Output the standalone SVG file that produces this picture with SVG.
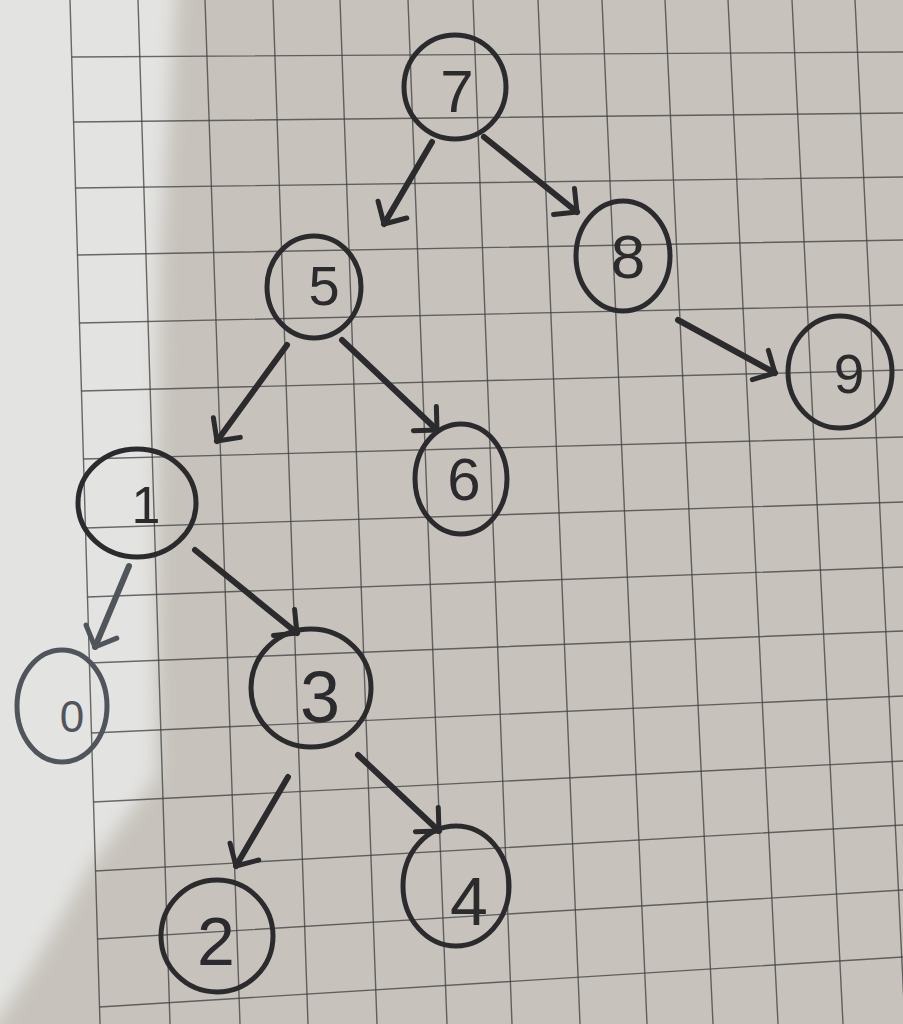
<svg xmlns="http://www.w3.org/2000/svg" width="903" height="1024" viewBox="0 0 903 1024">
  <defs>
    <filter id="soft" x="-20%" y="-20%" width="140%" height="140%">
      <feGaussianBlur stdDeviation="9"/>
    </filter>
    <marker id="arr" markerUnits="userSpaceOnUse" markerWidth="50" markerHeight="50" refX="0" refY="0" viewBox="-30 -30 40 60" orient="auto">
      <path d="M -20 -20 L 0 0 L -20 20" fill="none" stroke="context-stroke" stroke-width="6" stroke-linecap="round" stroke-linejoin="round"/>
    </marker>
    <marker id="arrDark" markerUnits="userSpaceOnUse" markerWidth="50" markerHeight="50" refX="0" refY="0" viewBox="-30 -30 40 60" orient="auto">
      <path d="M -20 -20 L 0 0 L -20 20" fill="none" stroke="#2b2b2e" stroke-width="6" stroke-linecap="round" stroke-linejoin="round"/>
    </marker>
    <marker id="arrGrey" markerUnits="userSpaceOnUse" markerWidth="50" markerHeight="50" refX="0" refY="0" viewBox="-30 -30 40 60" orient="auto">
      <path d="M -20 -20 L 0 0 L -20 20" fill="none" stroke="#50555c" stroke-width="6" stroke-linecap="round" stroke-linejoin="round"/>
    </marker>
  </defs>
  <style>
    .ring { fill: none; stroke: #2b2b2e; stroke-width: 5; }
    .ring.grey { stroke: #50555c; }
    .digit { font-family: "Liberation Sans", Arial, sans-serif; fill: #2b2b2e; text-anchor: middle; }
    .digit.grey { fill: #50555c; }
    .edge { fill: none; stroke: #2b2b2e; stroke-width: 6; stroke-linecap: round; marker-end: url(#arrDark); }
    .edge.grey { stroke: #50555c; marker-end: url(#arrGrey); }
    .grid { fill: none; stroke: #3e3e40; stroke-width: 1.4; stroke-opacity: 0.75; }
  </style>

  <g id="paper">
    <rect x="0" y="0" width="903" height="1024" fill="#c7c3bc"/>
    <polygon points="-30,-30 178,-30 170,100 160,250 157,450 156,650 157,775 90,867 33,967 0,1017 -30,1054" fill="#e3e3e1" filter="url(#soft)"/>
    <path class="grid" d="M70 0 L100 1024 M138 0 L170 1024 M205 0 L240 1024 M273 0 L308 1024 M340 0 L377 1024 M408 0 L447 1024 M473 0 L512 1024 M538 0 L580 1024 M602 0 L647 1024 M665 0 L713 1024 M728 0 L778 1024 M792 0 L843 1024 M855 0 L905 1024"/>
    <path class="grid" d="M71.7 57 L903 52 M73.6 122 L903 113 M75.5 188 L903 177 M77.5 255 L903 240 M79.5 323 L903 305 M81.5 391 L903 370 M83.4 459 L903 437 M85.5 528 L903 502 M87.5 597 L903 567 M89.4 663 L903 631 M91.5 733 L903 696 M93.5 802 L903 761 M95.5 871 L903 825 M97.5 939 L903 890 M99.5 1007 L903 957"/>
  </g>

  <g id="connectors">
    <path class="edge" d="M432 142 L384 224"/>
    <path class="edge" d="M484 137 L577 212"/>
    <path class="edge" d="M287 345 L217 441"/>
    <path class="edge" d="M342 340 L437 430"/>
    <path class="edge" d="M678 320 L775 373"/>
    <path class="edge grey" d="M129 566 L95 647"/>
    <path class="edge" d="M195 550 L297 633"/>
    <path class="edge" d="M288 777 L236 866"/>
    <path class="edge" d="M358 755 L439 831"/>
  </g>

  <g id="node-7">
    <ellipse class="ring" cx="455" cy="87" rx="51" ry="52"/>
    <text class="digit" x="457" y="112" font-size="60">7</text>
  </g>
  <g id="node-5">
    <ellipse class="ring" cx="314" cy="287" rx="47" ry="51"/>
    <text class="digit" x="324" y="305" font-size="56">5</text>
  </g>
  <g id="node-8">
    <ellipse class="ring" cx="623" cy="256" rx="47" ry="55"/>
    <text class="digit" x="628" y="278" font-size="62">8</text>
  </g>
  <g id="node-9">
    <ellipse class="ring" cx="840" cy="372" rx="52" ry="56"/>
    <text class="digit" x="849" y="393" font-size="55">9</text>
  </g>
  <g id="node-1">
    <ellipse class="ring" cx="137" cy="503" rx="59" ry="54"/>
    <text class="digit" x="146" y="523" font-size="52">1</text>
  </g>
  <g id="node-6">
    <ellipse class="ring" cx="461" cy="479" rx="46" ry="55"/>
    <text class="digit" x="464" y="500" font-size="60">6</text>
  </g>
  <g id="node-0">
    <ellipse class="ring grey" cx="62" cy="706" rx="45" ry="56"/>
    <text class="digit grey" x="72" y="732" font-size="44">0</text>
  </g>
  <g id="node-3">
    <ellipse class="ring" cx="311" cy="688" rx="60" ry="59"/>
    <text class="digit" x="320" y="722" font-size="72">3</text>
  </g>
  <g id="node-2">
    <ellipse class="ring" cx="217" cy="936" rx="56" ry="56"/>
    <text class="digit" x="216" y="965" font-size="68">2</text>
  </g>
  <g id="node-4">
    <ellipse class="ring" cx="456" cy="886" rx="53" ry="60"/>
    <text class="digit" x="469" y="925" font-size="68">4</text>
  </g>
</svg>
